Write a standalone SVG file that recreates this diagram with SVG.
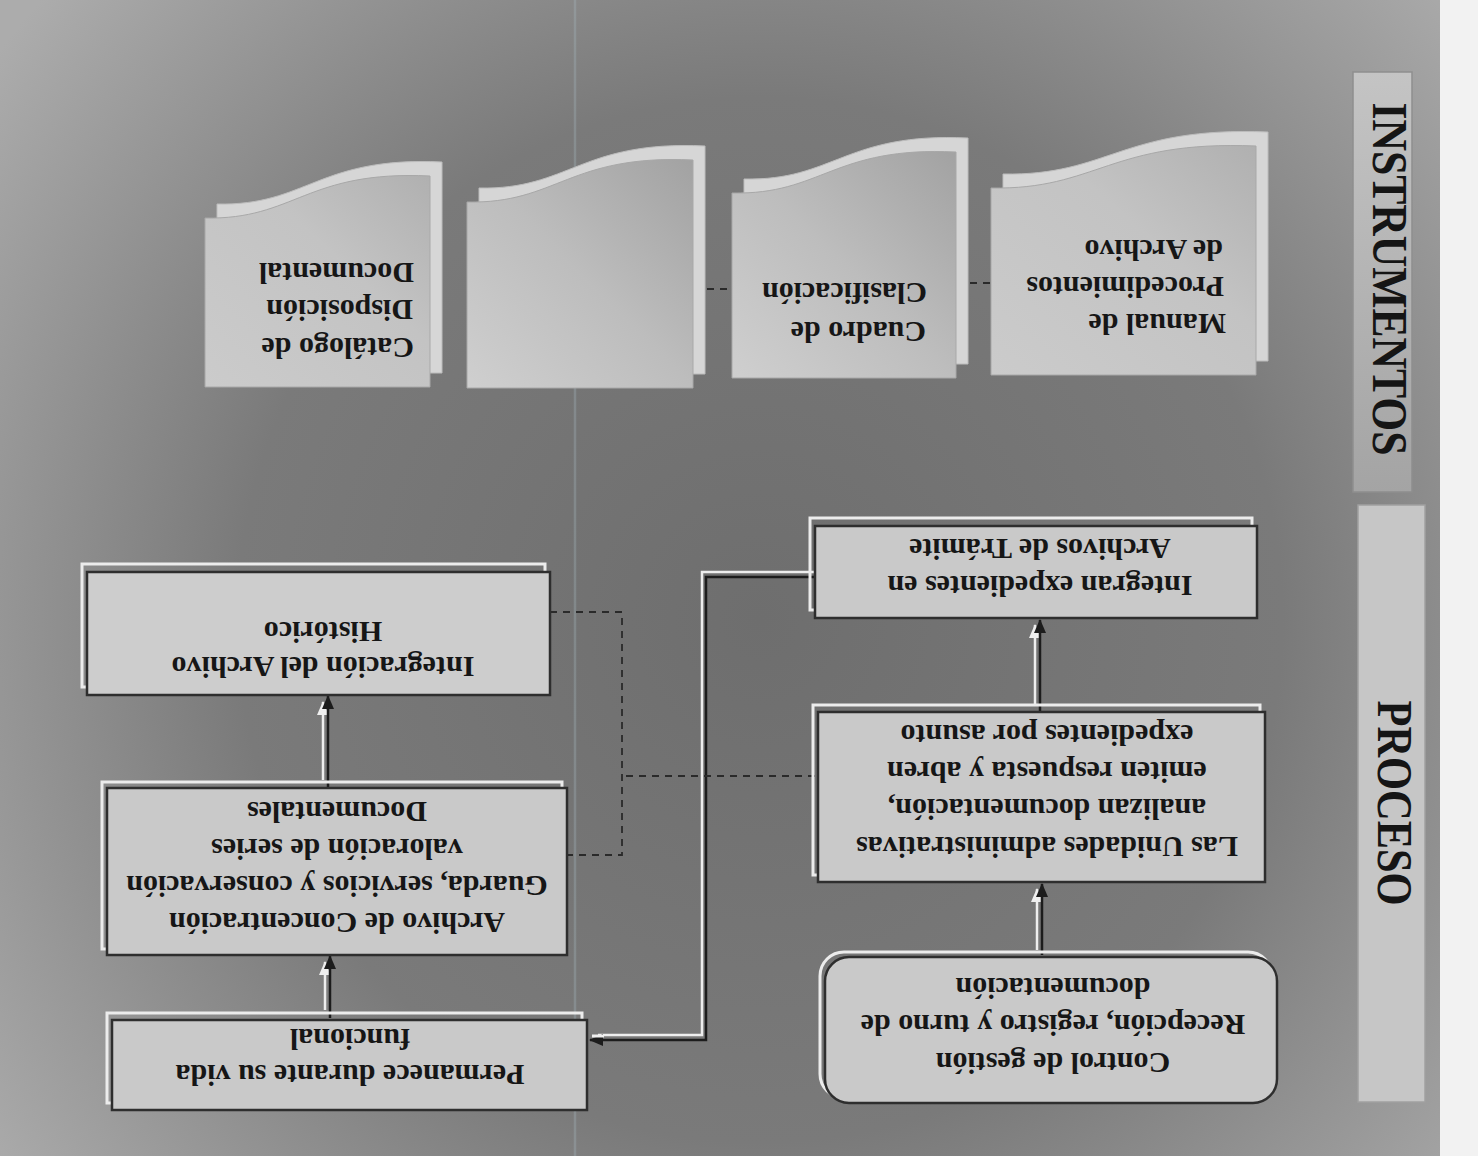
<svg xmlns="http://www.w3.org/2000/svg" width="1478" height="1156" viewBox="0 0 1478 1156">
  <defs>
    <radialGradient id="bg" cx="760" cy="620" r="950" gradientUnits="userSpaceOnUse">
      <stop offset="0" stop-color="#6e6e6e"/>
      <stop offset="0.55" stop-color="#7a7a7a"/>
      <stop offset="1" stop-color="#acacac"/>
    </radialGradient>
    <linearGradient id="barI" x1="0" y1="0" x2="0" y2="1">
      <stop offset="0" stop-color="#c4c4c4"/>
      <stop offset="1" stop-color="#a4a4a4"/>
    </linearGradient>
    <linearGradient id="docF" x1="0" y1="1" x2="1" y2="0">
      <stop offset="0" stop-color="#cbcbcb"/>
      <stop offset="0.6" stop-color="#c3c3c3"/>
      <stop offset="1" stop-color="#b0b0b0"/>
    </linearGradient>
    <linearGradient id="docF2" x1="0" y1="1" x2="1" y2="0">
      <stop offset="0" stop-color="#cfcfcf"/>
      <stop offset="0.5" stop-color="#bdbdbd"/>
      <stop offset="1" stop-color="#a2a2a2"/>
    </linearGradient>
    <marker id="ah" viewBox="0 0 14 12" refX="13" refY="6" markerWidth="14" markerHeight="12" markerUnits="userSpaceOnUse" orient="auto">
      <path d="M0,0 L14,6 L0,12 Z" fill="#1c1c1c"/>
    </marker>
    <marker id="ahw" viewBox="0 0 14 12" refX="13" refY="6" markerWidth="14" markerHeight="12" markerUnits="userSpaceOnUse" orient="auto">
      <path d="M0,0 L14,6 L0,12 Z" fill="#efefef"/>
    </marker>
  </defs>
  <style>
    .t { font-family: "Liberation Serif", "Times New Roman", serif; font-weight: bold; font-size: 30px; fill: #161616; text-anchor: middle; dominant-baseline: central; }
    .td { font-family: "Liberation Serif", "Times New Roman", serif; font-weight: bold; font-size: 30px; fill: #161616; text-anchor: start; dominant-baseline: central; }
    .hdr { font-family: "Liberation Serif", "Times New Roman", serif; font-weight: bold; font-size: 50px; fill: #151515; text-anchor: middle; dominant-baseline: central; }
    .box { fill: #c9c9c9; stroke: #2e2e2e; stroke-width: 2.5; }
    .hl { fill: none; stroke: #ececec; stroke-width: 3; }
    .back { fill: #d6d6d6; stroke: #bdbdbd; stroke-width: 1; }
    .front { fill: url(#docF); stroke: #a8a8a8; stroke-width: 1; }
    .front2 { fill: url(#docF2); stroke: #a8a8a8; stroke-width: 1; }
    .dk { fill: none; stroke: #1c1c1c; stroke-width: 2.5; }
    .wh { fill: none; stroke: #eeeeee; stroke-width: 2.5; }
    .dash { fill: none; stroke: #2a2a2a; stroke-width: 1.8; stroke-dasharray: 7 6; }
  </style>

  <!-- background -->
  <rect x="0" y="0" width="1478" height="1156" fill="#f2f2f2"/>
  <rect x="0" y="0" width="1440" height="1156" fill="url(#bg)"/>
  <line x1="575" y1="0" x2="575" y2="1156" stroke="#a9bcc4" stroke-width="2.5" opacity="0.3"/>

  <!-- header bars -->
  <g id="hdr-instrumentos">
    <rect x="1353" y="72" width="59" height="420" fill="url(#barI)" stroke="#8e8e8e" stroke-width="1.5"/>
    <text class="hdr" x="1390" y="279" transform="rotate(90 1390 279)" textLength="353" lengthAdjust="spacingAndGlyphs">INSTRUMENTOS</text>
  </g>
  <g id="hdr-proceso">
    <rect x="1358" y="505" width="67" height="597" fill="#c6c6c6" stroke="#a0a0a0" stroke-width="1.5"/>
    <text class="hdr" x="1395" y="803" transform="rotate(90 1395 803)" textLength="205" lengthAdjust="spacingAndGlyphs">PROCESO</text>
  </g>

  <!-- connectors -->
  <g id="connectors">
    <line class="wh" x1="1037" y1="950" x2="1037" y2="889" marker-end="url(#ahw)"/>
    <line class="dk" x1="1042" y1="955" x2="1042" y2="884" marker-end="url(#ah)"/>
    <line class="wh" x1="1035" y1="705" x2="1035" y2="625" marker-end="url(#ahw)"/>
    <line class="dk" x1="1040" y1="711" x2="1040" y2="620" marker-end="url(#ah)"/>
    <path class="wh" d="M815,572 L702,572 L702,1035 L598,1035"/>
    <path class="dk" d="M815,577 L706,577 L706,1040 L590,1040" marker-end="url(#ah)"/>
    <path d="M604,1036 L592,1036" stroke="#efefef" stroke-width="3"/>
    <line class="wh" x1="325" y1="1010" x2="325" y2="962" marker-end="url(#ahw)"/>
    <line class="dk" x1="330" y1="1018" x2="330" y2="956" marker-end="url(#ah)"/>
    <line class="wh" x1="323" y1="780" x2="323" y2="702" marker-end="url(#ahw)"/>
    <line class="dk" x1="328" y1="787" x2="328" y2="696" marker-end="url(#ah)"/>
    <path class="dash" d="M815,776 L622,776"/>
    <path class="dash" d="M550,612 L622,612 L622,855 L568,855"/>
    <path class="dash" d="M957,283 L991,283"/>
    <path class="dash" d="M694,289 L732,289"/>
  </g>

  <!-- process nodes -->
  <g id="n-control">
    <rect class="hl" x="820" y="952" width="452" height="146" rx="24"/>
    <rect class="box" x="825" y="957" width="452" height="146" rx="24"/>
    <text class="t" x="1053" y="1063" transform="rotate(180 1053 1063)">Control de gestión</text>
    <text class="t" x="1053" y="1025" transform="rotate(180 1053 1025)">Recepción, registro y turno de</text>
    <text class="t" x="1053" y="988" transform="rotate(180 1053 988)">documentación</text>
  </g>
  <g id="n-unidades">
    <rect class="hl" x="813" y="705" width="447" height="170"/>
    <rect class="box" x="818" y="712" width="447" height="170"/>
    <text class="t" x="1047" y="847" transform="rotate(180 1047 847)">Las Unidades administrativas</text>
    <text class="t" x="1047" y="809" transform="rotate(180 1047 809)">analizan documentación,</text>
    <text class="t" x="1047" y="772" transform="rotate(180 1047 772)">emiten respuesta y abren</text>
    <text class="t" x="1047" y="735" transform="rotate(180 1047 735)">expedientes por asunto</text>
  </g>
  <g id="n-integran">
    <rect class="hl" x="810" y="518" width="442" height="92"/>
    <rect class="box" x="815" y="526" width="442" height="92"/>
    <text class="t" x="1040" y="586" transform="rotate(180 1040 586)">Integran expedientes en</text>
    <text class="t" x="1040" y="549" transform="rotate(180 1040 549)">Archivos de Trámite</text>
  </g>
  <g id="n-historico">
    <rect class="hl" x="82" y="564" width="463" height="123"/>
    <rect class="box" x="87" y="572" width="463" height="123" style="fill:#cdcdcd"/>
    <text class="t" x="323" y="667" transform="rotate(180 323 667)">Integración del Archivo</text>
    <text class="t" x="323" y="632" transform="rotate(180 323 632)">Histórico</text>
  </g>
  <g id="n-concentracion">
    <rect class="hl" x="102" y="782" width="460" height="167"/>
    <rect class="box" x="107" y="788" width="460" height="167"/>
    <text class="t" x="337" y="923" transform="rotate(180 337 923)">Archivo de Concentración</text>
    <text class="t" x="337" y="886" transform="rotate(180 337 886)">Guarda, servicios y conservación</text>
    <text class="t" x="337" y="849" transform="rotate(180 337 849)">valoración de series</text>
    <text class="t" x="337" y="812" transform="rotate(180 337 812)">Documentales</text>
  </g>
  <g id="n-permanece">
    <rect class="hl" x="107" y="1013" width="475" height="90"/>
    <rect class="box" x="112" y="1020" width="475" height="90"/>
    <text class="t" x="350" y="1075" transform="rotate(180 350 1075)">Permanece durante su vida</text>
    <text class="t" x="350" y="1039" transform="rotate(180 350 1039)">funcional</text>
  </g>

  <!-- instrument documents -->
  <g id="d-catalogo">
    <path class="back" d="M217,373 L217,204 C307,206 318,156 442,162 L442,373 Z"/>
    <path class="front" d="M205,387 L205,218 C295,220 306,170 430,176 L430,387 Z"/>
    <text class="td" x="414" y="348" transform="rotate(180 414 348)">Catálogo de</text>
    <text class="td" x="413" y="310" transform="rotate(180 413 310)">Disposición</text>
    <text class="td" x="414" y="273" transform="rotate(180 414 273)">Documental</text>
  </g>
  <g id="d-blank">
    <path class="back" d="M479,374 L479,188 C569,190 581,140 705,146 L705,374 Z"/>
    <path class="front2" d="M467,388 L467,202 C557,204 569,154 693,160 L693,388 Z"/>
  </g>
  <g id="d-cuadro">
    <path class="back" d="M744,364 L744,179 C834,181 845,132 968,138 L968,364 Z"/>
    <path class="front2" d="M732,378 L732,193 C822,195 833,146 956,152 L956,378 Z"/>
    <text class="td" x="926" y="332" transform="rotate(180 926 332)">Cuadro de</text>
    <text class="td" x="927" y="293" transform="rotate(180 927 293)">Clasificación</text>
  </g>
  <g id="d-manual">
    <path class="back" d="M1003,361 L1003,174 C1109,176 1122,126 1268,132 L1268,361 Z"/>
    <path class="front" d="M991,375 L991,188 C1097,190 1110,140 1256,146 L1256,375 Z"/>
    <text class="td" x="1226" y="324" transform="rotate(180 1226 324)">Manual de</text>
    <text class="td" x="1224" y="287" transform="rotate(180 1224 287)">Procedimientos</text>
    <text class="td" x="1223" y="250" transform="rotate(180 1223 250)">de Archivo</text>
  </g>
</svg>
